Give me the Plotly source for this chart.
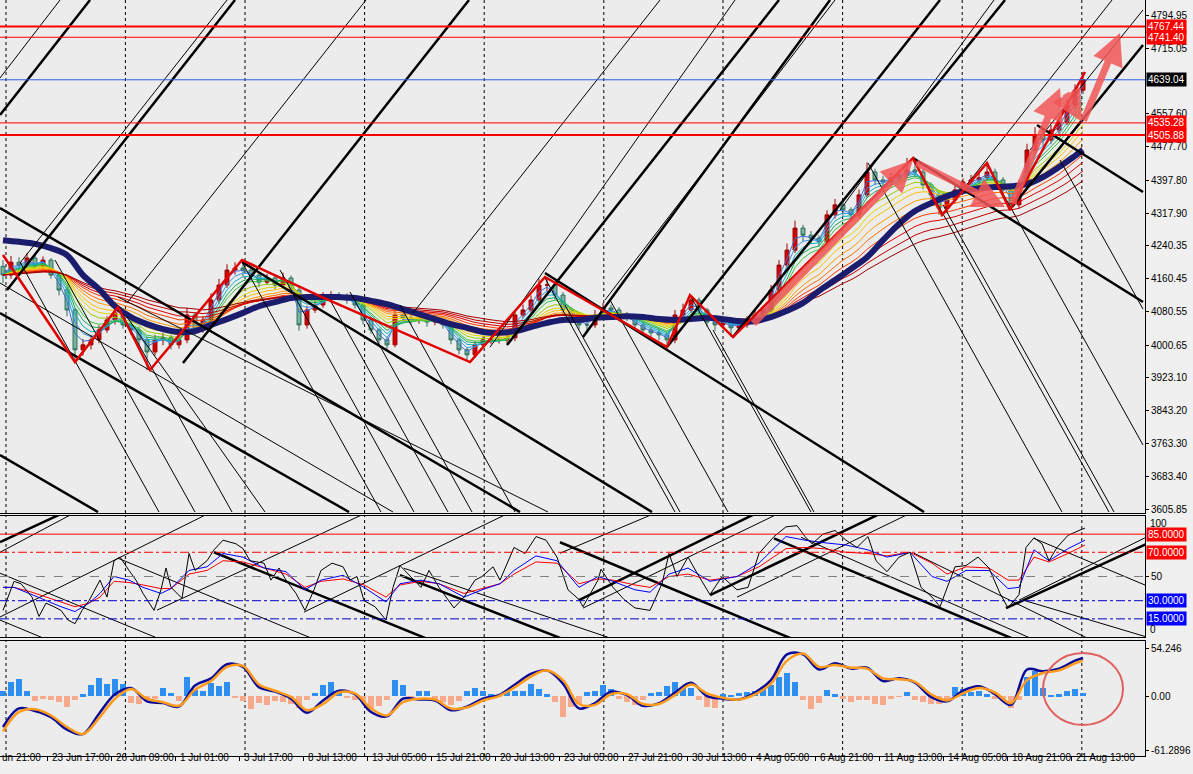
import pandas as pd
import plotly.graph_objects as go
from plotly.subplots import make_subplots

# 4H chart, x axis = bar number; one candle drawn every two bars
first_open = 4190
closes = [4169, 4200, 4193, 4210, 4191, 4205, 4169, 4133, 4085, 3989,
          4001, 4013, 4037, 4061, 4078, 4049, 4037, 4013, 3984, 4013,
          4018, 4001, 4013, 4073, 4037, 4061, 4109, 4145, 4181, 4186,
          4181, 4169, 4152, 4162, 4145, 4162, 4133, 4049, 4085, 4097,
          4114, 4121, 4119, 4109, 4097, 4061, 4037, 4013, 4001, 4073,
          4066, 4061, 4066, 4056, 4061, 4049, 4013, 3989, 3977, 4001,
          4013, 4013, 4013, 4018, 4073, 4085, 4109, 4145, 4145, 4121,
          4085, 4061, 4049, 4049, 4073, 4090, 4085, 4073, 4066, 4049,
          4037, 4030, 4025, 4013, 4073, 4085, 4109, 4085, 4056, 4049,
          4056, 4042, 4049, 4061, 4073, 4085, 4133, 4193, 4229, 4282,
          4265, 4258, 4249, 4314, 4338, 4326, 4314, 4362, 4417, 4398,
          4393, 4403, 4410, 4422, 4417, 4386, 4362, 4330, 4350, 4374,
          4393, 4398, 4403, 4417, 4398, 4374, 4338, 4386, 4470, 4506,
          4494, 4518, 4537, 4578, 4614, 4639]
highs = [4205, 4215, 4212, 4222, 4218, 4214, 4210, 4175, 4140, 4090,
         4015, 4025, 4048, 4070, 4092, 4085, 4060, 4045, 4020, 4025,
         4030, 4025, 4022, 4090, 4080, 4070, 4125, 4160, 4195, 4200,
         4205, 4190, 4175, 4172, 4168, 4175, 4168, 4140, 4095, 4108,
         4128, 4130, 4128, 4125, 4115, 4102, 4068, 4042, 4020, 4085,
         4082, 4075, 4078, 4072, 4074, 4066, 4055, 4018, 3995, 4010,
         4022, 4024, 4022, 4028, 4085, 4098, 4120, 4160, 4164, 4152,
         4128, 4092, 4068, 4062, 4085, 4102, 4098, 4092, 4080, 4072,
         4055, 4044, 4038, 4032, 4085, 4100, 4121, 4115, 4090, 4065,
         4066, 4062, 4058, 4070, 4082, 4095, 4145, 4205, 4245, 4300,
         4290, 4275, 4265, 4325, 4352, 4345, 4332, 4375, 4440, 4425,
         4408, 4415, 4422, 4451, 4440, 4424, 4392, 4368, 4360, 4385,
         4402, 4410, 4415, 4439, 4425, 4405, 4380, 4398, 4485, 4525,
         4518, 4530, 4550, 4592, 4628, 4658]
lows = [4150, 4160, 4180, 4185, 4180, 4183, 4160, 4120, 4070, 3960,
        3975, 3990, 4005, 4030, 4050, 4040, 4025, 4000, 3940, 3975,
        4000, 3990, 3992, 4005, 4025, 4030, 4055, 4100, 4138, 4170,
        4165, 4155, 4140, 4145, 4135, 4138, 4125, 4035, 4040, 4078,
        4090, 4105, 4108, 4100, 4088, 4050, 4028, 4002, 3990, 3995,
        4055, 4050, 4052, 4045, 4048, 4040, 4003, 3978, 3960, 3970,
        3995, 4003, 4004, 4005, 4010, 4065, 4078, 4100, 4130, 4110,
        4072, 4050, 4038, 4032, 4042, 4065, 4075, 4064, 4058, 4040,
        4028, 4020, 4012, 3996, 4005, 4066, 4078, 4075, 4045, 4035,
        4040, 4020, 4032, 4042, 4054, 4066, 4078, 4125, 4185, 4222,
        4250, 4245, 4238, 4242, 4305, 4312, 4300, 4306, 4355, 4385,
        4380, 4385, 4395, 4402, 4405, 4375, 4350, 4314, 4320, 4342,
        4366, 4385, 4390, 4395, 4388, 4362, 4326, 4330, 4380, 4460,
        4480, 4485, 4508, 4530, 4570, 4605]

# thick navy moving average, read every 4 bars (last point at bar 270)
navy_ma = [4253, 4249, 4244, 4234, 4217, 4169, 4135, 4094, 4068, 4051,
           4039, 4032, 4034, 4049, 4063, 4078, 4094, 4104, 4114, 4116,
           4116, 4116, 4114, 4107, 4099, 4087, 4075, 4063, 4051, 4042,
           4032, 4030, 4034, 4044, 4054, 4061, 4061, 4066, 4068, 4070,
           4068, 4063, 4061, 4063, 4066, 4063, 4058, 4058, 4068, 4083,
           4102, 4131, 4157, 4184, 4212, 4253, 4292, 4323, 4342, 4359,
           4371, 4378, 4381, 4383, 4388, 4405, 4429, 4456, 4470]

ribbon_spans = [2, 3, 4, 5, 6, 8, 10, 12, 15, 18, 22, 26, 31, 37]
ribbon_colors = ['#3a6fd8', '#2f9be8', '#14b3c4', '#16a85a', '#3cc43c', '#9acd00', '#e0d800',
                 '#ffc000', '#ff9a00', '#ff6a00', '#ff3a00', '#e00000', '#c00000', '#a00000']

zigzag_bars = [0, 18, 28.75, 36.75, 59.75, 79.75, 116.75, 135.5, 166, 171.75,
               182.5, 227.5, 234.75, 246, 251.75, 270.5]
zigzag_prices = [4217.3, 3959.7, 4092.1, 3940.5, 4205.2, 4116.2, 3959.7, 4164.3, 3995.8, 4120.9,
                 4019.9, 4450.7, 4313.6, 4438.7, 4325.6, 4657.7]

# hand drawn arrows: tail bar, tail price, head bar, head price
arrows = [(187.25, 4048.8, 227.5, 4445.9),
          (228, 4441.1, 250.5, 4332.9),
          (252.25, 4337.6, 264.25, 4619.2),
          (265.5, 4609.6, 269.75, 4537.4),
          (270, 4537.4, 279.25, 4751.6)]

# trend lines: bar0, price0, bar1, price1
main_thick_lines = [(-0.75, 4554.2, 21.75, 4831.0), (1, 4133.0, 58, 4831.0),
                    (45, 3957.3, 116.5, 4831.0), (126, 4000.6, 194, 4831.0),
                    (166, 3995.8, 234.25, 4831.0), (252.25, 4332.8, 285, 4722.7),
                    (145, 4019.9, 206.75, 4831.0), (182.5, 4019.9, 250.5, 4831.0),
                    (-0.75, 4330.4, 129.25, 3598.7), (-0.75, 4077.6, 86.5, 3598.7),
                    (-0.75, 3735.9, 23.75, 3598.7), (59.75, 4200.4, 162.25, 3598.7),
                    (135.5, 4173.9, 230.25, 3598.7), (227.5, 4450.7, 285, 4104.1),
                    (258.5, 4530.2, 285, 4368.9)]
main_thin_lines = [(-0.75, 4643.3, 14.25, 4831), (4.25, 4198.0, 56, 4831),
                   (31, 4101.7, 90.75, 4831), (102.5, 4077.6, 164.25, 4831),
                   (121.75, 3995.4, 183, 4831), (209.25, 4325.6, 247.75, 4831),
                   (235, 4313.6, 277.25, 4831), (256.75, 4470.0, 285, 4807),
                   (150.5, 4109.0, 208, 4831), (-0.75, 4149.9, 97.5, 3598.7),
                   (28.75, 4116.2, 136.25, 3598.7), (4.25, 4200.4, 39, 3598.7),
                   (28.75, 4092.0, 57.25, 3598.7), (59.75, 4200.4, 94.5, 3598.7),
                   (69.25, 4181.2, 102.75, 3598.7), (81.75, 4109.0, 111.25, 3598.7),
                   (86.75, 4128.2, 117.25, 3598.7), (99.25, 4096.9, 128, 3598.7),
                   (135.5, 4161.9, 168, 3598.7), (140.5, 4096.9, 169.25, 3598.7),
                   (151.75, 4109.0, 181.25, 3598.7), (171.75, 4121.0, 202, 3598.7),
                   (177.5, 4036.7, 202.75, 3598.7), (216.25, 4438.7, 264.75, 3598.7),
                   (227.5, 4445.9, 276.5, 3598.7), (235, 4337.6, 277.75, 3598.7),
                   (246, 4433.9, 285, 3760.0), (264.25, 4445.9, 285, 4087.3),
                   (13, 4205.2, 48, 3598.7), (31, 4068.0, 65.5, 3598.7)]

red_levels = [4767.44, 4741.40, 4535.28, 4505.88]
red_widths = [2, 1, 1, 2]
last_price = 4639.04
price_ticks = [4794.95, 4715.05, 4557.60, 4477.70, 4397.80, 4317.90, 4240.35, 4160.45,
               4080.55, 4000.65, 3923.10, 3843.20, 3763.30, 3683.40, 3605.85]

# oscillator panel
stoch_fast_bars = [0, 2.75, 4.5, 7.25, 9, 10.75, 12.75, 14.5, 16.25, 18,
                   19.75, 21.5, 24.25, 26, 27.75, 29.25, 31.5, 33.25, 35, 37.75,
                   39.5, 40.75, 42, 44.75, 46.5, 48, 51, 52.75, 55, 58.25,
                   60, 61.75, 65.25, 67, 69, 70.75, 73.25, 75.5, 77.75, 79.5,
                   82.25, 85, 86.75, 88.5, 90.25, 93, 95.75, 97.5, 99.25, 102,
                   104.5, 106.5, 109, 112.75, 115.25, 118, 119.75, 122.5, 124.25, 127.75,
                   130.5, 133.25, 135.75, 138.5, 141.25, 144, 145, 148.75, 149.5, 152.5,
                   155.25, 158, 161.75, 164.75, 166.5, 168.5, 171.25, 174, 176.75, 179.75,
                   183.5, 186.25, 189, 192.75, 195.75, 198.5, 200.5, 202.25, 205, 208,
                   210.75, 213.5, 216.25, 218.25, 221, 224, 226.75, 229.5, 232.25, 234.25,
                   236, 238, 240.75, 243.75, 246.5, 249.25, 251.25, 254, 255.75, 257.75,
                   259.75, 261.5, 263.5, 266.25, 269, 270.5]
stoch_fast = [22, 46, 44, 33, 17, 28, 25, 22, 14, 11,
              22, 30, 47, 33, 63, 66, 55, 47, 36, 22,
              39, 57, 41, 32, 69, 55, 63, 72, 80, 77,
              73, 63, 61, 47, 57, 47, 36, 22, 39, 55,
              61, 58, 47, 50, 30, 25, 14, 41, 59, 50,
              41, 55, 41, 24, 33, 47, 50, 58, 47, 74,
              69, 83, 80, 66, 39, 31, 25, 47, 56, 41,
              31, 24, 22, 44, 69, 50, 66, 50, 35, 50,
              39, 41, 69, 83, 91, 92, 83, 77, 85, 88,
              80, 74, 83, 63, 54, 66, 70, 41, 33, 25,
              41, 58, 59, 66, 57, 36, 24, 35, 74, 82,
              77, 63, 74, 84, 88, 90]
stoch_slow_bars = [0, 2.75, 7.25, 10.75, 14.5, 18, 21.5, 24.25, 27.75, 31.5,
                   35, 39.5, 42, 46.5, 51, 55, 60, 65.25, 70.75, 75.5,
                   79.5, 85, 90.25, 95.75, 99.25, 104.5, 109, 115.25, 119.75, 124.25,
                   127.75, 133.25, 138.5, 144, 148.75, 152.5, 158, 161.75, 166.5, 171.25,
                   176.75, 183.5, 189, 195.75, 200.5, 205, 210.75, 216.25, 221, 226.75,
                   232.25, 236, 240.75, 246.5, 251.25, 254, 257.75, 261.5, 266.25, 270.5]
stoch_blue = [41, 41, 35, 30, 25, 21, 28, 36, 50, 47, 41, 36, 40, 55, 58, 69, 66, 57, 54, 39,
              47, 51, 41, 29, 44, 47, 44, 33, 39, 44, 55, 67, 63, 41, 50, 46, 39, 37, 52, 57,
              46, 50, 61, 83, 80, 78, 76, 72, 66, 70, 50, 46, 55, 55, 40, 41, 72, 63, 73, 80]
stoch_red = [41, 41, 37, 33, 29, 25, 28, 33, 46, 45, 43, 40, 40, 52, 55, 63, 62, 57, 52, 41,
             46, 48, 43, 33, 43, 46, 44, 36, 40, 44, 52, 62, 61, 44, 48, 47, 43, 41, 50, 52,
             47, 50, 58, 73, 74, 73, 70, 69, 67, 70, 61, 52, 58, 57, 47, 47, 66, 62, 69, 76]
osc_thick_lines = [(-0.75, 78.3, 14.25, 101.3), (144, 30.5, 189.25, 103.8),
                   (176.75, 34.6, 220.5, 103.8), (250.75, 23.9, 286.75, 78.3),
                   (52.75, 70, 105.5, -0.8), (99.25, 51.1, 139.25, -0.8),
                   (139.25, 78.3, 196.75, -0.8), (192.75, 81.5, 252, -0.8)]
osc_thin_lines = [(-0.75, 70, 19, 104.6), (-0.75, 16.5, 59.25, 115),
                  (38.5, 22.2, 94.25, 107.9), (75.25, 20.6, 133, 112.9),
                  (145, 23.9, 195.5, 104.6), (139.25, 69.2, 161.75, 100.5),
                  (183.5, 32.9, 227.75, 103.8), (254, 30.5, 286.75, 84),
                  (-0.75, 52.7, 38.5, -0.8), (28.75, 65.1, 77, -0.8),
                  (-0.75, 14, 10, -0.8), (199.5, 82.4, 256.75, -0.8),
                  (227.75, 69.2, 271, -0.8), (257.75, 81.5, 286.75, 41.2),
                  (255, 30.5, 286.75, -0.8), (100.25, 56.8, 151.75, -0.8)]

# MACD panel
macd_main = [-35, -14, -17, -24, -38, -43, -20, 2, 9, -6, -8, -12, 12, 20, 36, 33, 10, 5, -3, -19,
             -5, 6, 2, -18, -23, -3, -4, -5, -16, -12, -3, 1, 13, 25, 29, 14, -14, -8, 5, 1,
             -11, -8, 4, 15, 0, -3, -4, 4, 18, 47, 47, 30, 37, 31, 32, 17, 20, 15, -1, -6,
             6, 11, 2, -10, 30, 28, 31, 40, 43]
macd_signal = [-40, -18, -15, -22, -35, -43, -25, -3, 8, -3, -7, -11, 7, 17, 33, 34, 13, 6, -1, -16,
               -9, 4, 3, -14, -22, -7, -3, -4, -14, -13, -5, 0, 10, 22, 29, 18, -9, -10, 2, 2,
               -9, -9, 1, 13, 3, -2, -4, 2, 14, 40, 48, 33, 35, 32, 31, 20, 19, 16, 2, -5,
               3, 9, 4, -8, 18, 26, 29, 37, 40]
macd_hist = [6, 16, 19, 6, -6, -3, -5, -7, -12, -4, 2, 12, 20, 14, 19, 14, -8, -9, -5, -3,
             9, 3, -6, 22, 7, 6, 15, 11, 16, -2, -6, -15, -8, -10, -6, -7, -9, -14, -4, 3,
             12, 16, 6, -2, -4, -7, -14, -11, -5, 18, 12, -2, 6, 6, -3, -7, -10, -6, 6, 9,
             6, 2, -1, 5, 6, 6, 14, 8, 2, -7,
             -24, -12, -9, 4, 6, 13, 8, -3, -7, -10, -4, 3, 5, 11, 16, 9, 9, -5, -12, -14,
             2, 1, 3, 4, 6, 8, 12, 21, 26, 16, -5, -15, -8, 7, 2, -3, -7, -5, -5, -9,
             -10, -3, -1, 4, -4, -7, -9, -9, -4, 10, 8, 5, 6, 2, -3, -6, -13, -4, 22, 28,
             9, 1, 2, 6, 8, 3]

x_tick_bars = [11, 27, 43, 59, 75, 91, 107, 123, 139, 155, 171, 187, 203, 219, 235, 251, 267]
x_tick_text = ['23 Jun 17:00', '26 Jun 09:00', '1 Jul 01:00', '3 Jul 17:00', '8 Jul 13:00',
               '13 Jul 05:00', '15 Jul 21:00', '20 Jul 13:00', '23 Jul 05:00', '27 Jul 21:00',
               '30 Jul 13:00', '4 Aug 05:00', '6 Aug 21:00', '11 Aug 13:00', '14 Aug 05:00',
               '18 Aug 21:00', '21 Aug 13:00']
grid_bars = [0.75, 30.6, 60.5, 90.4, 120.3, 150.2, 180.0, 209.9, 239.8, 269.7]

candle_bars = list(range(0, 2 * len(closes), 2))
opens = [first_open] + closes[:-1]
navy_bars = list(range(0, 4 * (len(navy_ma) - 1), 4)) + [270]

FONT = 'Liberation Sans'


def segs(lines):
    xs, ys = [], []
    for b0, v0, b1, v1 in lines:
        xs += [b0, b1, None]
        ys += [v0, v1, None]
    return xs, ys


fig = make_subplots(rows=3, cols=1, shared_xaxes=True, vertical_spacing=0.004)

# MA ribbon
close_s = pd.Series(closes)
for span, col in zip(ribbon_spans, ribbon_colors):
    ema = close_s.ewm(span=span, adjust=False).mean()
    fig.add_trace(go.Scatter(x=candle_bars, y=ema, mode='lines',
                             line=dict(color=col, width=1)), row=1, col=1)

fig.add_trace(go.Scatter(x=navy_bars, y=navy_ma, mode='lines',
                         line=dict(color='#1c1c6e', width=6, shape='spline')), row=1, col=1)

fig.add_trace(go.Candlestick(x=candle_bars, open=opens, high=highs, low=lows, close=closes,
                             increasing=dict(line=dict(color='#9b0000', width=1), fillcolor='#d40000'),
                             decreasing=dict(line=dict(color='#2d6e5a', width=1), fillcolor='#79b49c'),
                             whiskerwidth=0), row=1, col=1)

xs, ys = segs(main_thin_lines)
fig.add_trace(go.Scatter(x=xs, y=ys, mode='lines', line=dict(color='black', width=1)), row=1, col=1)
xs, ys = segs(main_thick_lines)
fig.add_trace(go.Scatter(x=xs, y=ys, mode='lines', line=dict(color='black', width=2.5)), row=1, col=1)

fig.add_trace(go.Scatter(x=zigzag_bars, y=zigzag_prices, mode='lines',
                         line=dict(color='#e00000', width=2.5)), row=1, col=1)

# oscillator
xs, ys = segs(osc_thin_lines)
fig.add_trace(go.Scatter(x=xs, y=ys, mode='lines', line=dict(color='black', width=1)), row=2, col=1)
xs, ys = segs(osc_thick_lines)
fig.add_trace(go.Scatter(x=xs, y=ys, mode='lines', line=dict(color='black', width=2.5)), row=2, col=1)
fig.add_trace(go.Scatter(x=stoch_slow_bars, y=stoch_red, mode='lines',
                         line=dict(color='#ff0000', width=1)), row=2, col=1)
fig.add_trace(go.Scatter(x=stoch_slow_bars, y=stoch_blue, mode='lines',
                         line=dict(color='#0000ff', width=1)), row=2, col=1)
fig.add_trace(go.Scatter(x=stoch_fast_bars, y=stoch_fast, mode='lines',
                         line=dict(color='black', width=1)), row=2, col=1)

# MACD
fig.add_trace(go.Bar(x=candle_bars, y=macd_hist, width=1.3,
                     marker=dict(color=['#2f8ff0' if v >= 0 else '#f7a98b' for v in macd_hist],
                                 line=dict(width=0))), row=3, col=1)
fig.add_trace(go.Scatter(x=navy_bars, y=macd_main, mode='lines',
                         line=dict(color='#0a0a9a', width=2.5, shape='spline')), row=3, col=1)
fig.add_trace(go.Scatter(x=navy_bars, y=macd_signal, mode='lines',
                         line=dict(color='#ff9a1a', width=2.5, shape='spline')), row=3, col=1)

# horizontal levels
for lvl, w in zip(red_levels, red_widths):
    fig.add_shape(type='line', xref='x domain', yref='y', x0=0, x1=1, y0=lvl, y1=lvl,
                  line=dict(color='#ff0000', width=w))
fig.add_shape(type='line', xref='x domain', yref='y', x0=0, x1=1, y0=last_price, y1=last_price,
              line=dict(color='#3060e0', width=1))

osc_levels = [(85, '#ff0000', 'solid'), (70, '#ff0000', 'dashdot'), (50, '#808080', 'dash'),
              (30, '#0000cc', 'dashdot'), (15, '#0000cc', 'dashdot')]
for lvl, col, dash in osc_levels:
    fig.add_shape(type='line', xref='x2 domain', yref='y2', x0=0, x1=1, y0=lvl, y1=lvl,
                  line=dict(color=col, width=1, dash=dash))

# vertical dashed grid
for xr, yr in [('x', 'y domain'), ('x2', 'y2 domain'), ('x3', 'y3 domain')]:
    for b in grid_bars:
        fig.add_shape(type='line', xref=xr, yref=yr, x0=b, x1=b, y0=0, y1=1,
                      line=dict(color='black', width=1, dash='3px,3px'), layer='below')

fig.add_shape(type='circle', xref='x3', yref='y3', x0=260, x1=280, y0=-32.8, y1=48.6,
              line=dict(color='#e06060', width=2))

# arrows
for tb, tp, hb, hp in arrows:
    fig.add_annotation(x=hb, y=hp, ax=tb, ay=tp, xref='x', yref='y', axref='x', ayref='y',
                       text='', showarrow=True, arrowhead=2, arrowsize=0.9, arrowwidth=7,
                       arrowcolor='rgba(242,86,86,0.85)', standoff=0)


# axis value boxes
def value_box(y, yref, text, bg):
    fig.add_annotation(x=1, xref='paper', xanchor='left', xshift=1, y=y, yref=yref,
                       text=text, showarrow=False, bgcolor=bg, borderpad=1,
                       font=dict(family=FONT, size=10, color='white'))


for lvl in red_levels:
    value_box(lvl, 'y', f'{lvl:.2f}', '#ff0000')
value_box(last_price, 'y', f'{last_price:.2f}', '#000000')
value_box(85, 'y2', '85.0000', '#ff0000')
value_box(70, 'y2', '70.0000', '#ff0000')
value_box(30, 'y2', '30.0000', '#0000ff')
value_box(15, 'y2', '15.0000', '#0000ff')

fig.add_annotation(x=1, xref='paper', xanchor='left', xshift=3, y=100, yref='y2', yanchor='top',
                   text='100', showarrow=False, font=dict(family=FONT, size=10, color='black'))
fig.add_annotation(x=1, xref='paper', xanchor='left', xshift=3, y=0, yref='y2', yanchor='bottom',
                   text='0', showarrow=False, font=dict(family=FONT, size=10, color='black'))

# time labels start just right of their tick, MT4 style
for b, t in zip(x_tick_bars, x_tick_text):
    fig.add_annotation(x=b, xref='x3', y=-0.012, yref='paper', xanchor='left', xshift=3,
                       text=t, showarrow=False, font=dict(family=FONT, size=10, color='black'))
fig.add_annotation(x=0, xref='paper', y=-0.012, yref='paper', xanchor='left',
                   text='un 21:00', showarrow=False, font=dict(family=FONT, size=10, color='black'))

axis_style = dict(showgrid=False, zeroline=False, showline=True, mirror=True,
                  linecolor='black', linewidth=1)
fig.update_xaxes(range=[-0.75, 285.5], rangeslider_visible=False, showticklabels=False, **axis_style)
fig.update_xaxes(row=3, col=1, tickvals=x_tick_bars, ticks='outside', ticklen=4, tickcolor='black')
fig.update_yaxes(side='right', ticks='outside', ticklen=3, tickcolor='black',
                 tickfont=dict(family=FONT, size=10, color='black'), **axis_style)
fig.update_yaxes(row=1, col=1, range=[3596.3, 4831.05], tickvals=price_ticks,
                 ticktext=[f'{v:.2f}' for v in price_ticks])
fig.update_yaxes(row=2, col=1, range=[0, 100], tickvals=[50], ticktext=['50'])
fig.update_yaxes(row=3, col=1, range=[-67.8, 62.2], tickvals=[54.246, 0, -61.2896],
                 ticktext=['54.246', '0.00', '-61.2896'])

fig.update_layout(
    width=1193, height=774,
    margin=dict(l=0, r=48, t=0, b=18),
    paper_bgcolor='#f0f0f0', plot_bgcolor='#ececec',
    showlegend=False, bargap=0,
    font=dict(family=FONT, size=10, color='black'),
    yaxis=dict(domain=[0.3214, 1.0]),
    yaxis2=dict(domain=[0.1574, 0.3175]),
    yaxis3=dict(domain=[0.0, 0.1521]),
)

# the page body has a default 8px margin; drop it so the chart fills the window
fig.write_html('out.html', config={'displayModeBar': False},
               post_script="document.body.style.margin='0';document.body.style.overflow='hidden';")
